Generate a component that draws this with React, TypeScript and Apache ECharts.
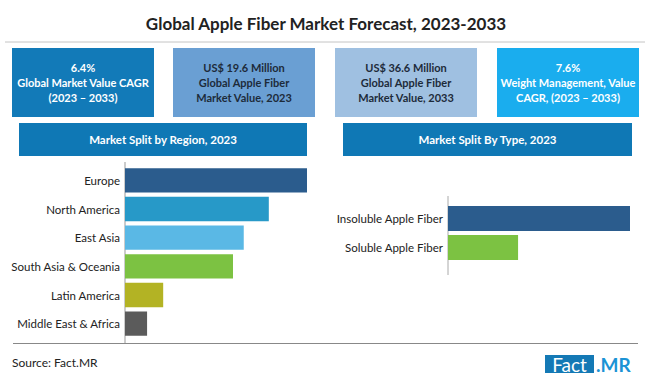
import React, { useEffect, useRef } from "react";
import * as echarts from "echarts";

const title = "Global Apple Fiber Market Forecast, 2023-2033";

const statTexts = [
  "6.4%\nGlobal Market Value CAGR\n(2023 – 2033)",
  "US$ 19.6 Million\nGlobal Apple Fiber\nMarket Value, 2023",
  "US$ 36.6 Million\nGlobal Apple Fiber\nMarket Value, 2033",
  "7.6%\nWeight Management, Value\nCAGR, (2023 – 2033)",
];
const statFills = ["#127ab8", "#6a9fd3", "#9fc0e1", "#1aadee"];
const statTextColors = ["#ffffff", "#1d2b3a", "#1d2b3a", "#ffffff"];

const regionTitle = "Market Split by Region, 2023";
const regionCategories = [
  "Europe",
  "North America",
  "East Asia",
  "South Asia & Oceania",
  "Latin America",
  "Middle East & Africa",
];
const regionValues = [30.5, 24.1, 19.9, 18.1, 6.4, 3.7];
const regionColors = ["#2b5c8d", "#2799c8", "#5ab8e5", "#7cc242", "#b3b324", "#5b5b5b"];

const typeTitle = "Market Split By Type, 2023";
const typeCategories = ["Insoluble Apple Fiber", "Soluble Apple Fiber"];
const typeValues = [72.2, 27.8];
const typeColors = ["#2b5c8d", "#7cc242"];

const sourceText = "Source: Fact.MR";

const FONT = "Lato, 'Open Sans', sans-serif";

export default function App() {
  const ref = useRef<HTMLDivElement>(null);

  useEffect(() => {
    if (!ref.current) return;
    const chart = echarts.init(ref.current, undefined, { renderer: "svg" });

    const boxX = [12, 173, 335, 497];
    const statGraphics: any[] = [];
    statTexts.forEach((t, i) => {
      statGraphics.push({
        type: "rect",
        shape: { x: boxX[i], y: 48, width: 142, height: 69 },
        style: { fill: statFills[i] },
        silent: true,
      });
      statGraphics.push({
        type: "text",
        x: boxX[i] + 71,
        y: 82.5,
        style: {
          text: t,
          align: "center",
          verticalAlign: "middle",
          font: `bold 11px ${FONT}`,
          lineHeight: 15,
          fill: statTextColors[i],
        },
        silent: true,
      });
    });

    const option: any = {
      animation: false,
      backgroundColor: "#ffffff",
      graphic: [
        {
          type: "text",
          x: 326,
          y: 23,
          style: {
            text: title,
            align: "center",
            verticalAlign: "middle",
            font: `bold 17px ${FONT}`,
            fill: "#222222",
          },
        },
        {
          type: "line",
          shape: { x1: 5, y1: 42, x2: 645, y2: 42 },
          style: { stroke: "#c4c4c4", lineWidth: 1 },
        },
        ...statGraphics,
        {
          type: "rect",
          shape: { x: 19, y: 123, width: 288, height: 33 },
          style: { fill: "#0f78b5" },
        },
        {
          type: "text",
          x: 163,
          y: 139.5,
          style: {
            text: regionTitle,
            align: "center",
            verticalAlign: "middle",
            font: `bold 11.5px ${FONT}`,
            fill: "#ffffff",
          },
        },
        {
          type: "rect",
          shape: { x: 343, y: 123, width: 289, height: 33 },
          style: { fill: "#0f78b5" },
        },
        {
          type: "text",
          x: 487.5,
          y: 139.5,
          style: {
            text: typeTitle,
            align: "center",
            verticalAlign: "middle",
            font: `bold 11.5px ${FONT}`,
            fill: "#ffffff",
          },
        },
        {
          type: "line",
          shape: { x1: 125, y1: 162, x2: 125, y2: 343 },
          style: { stroke: "#999999", lineWidth: 1 },
        },
        {
          type: "line",
          shape: { x1: 448, y1: 196, x2: 448, y2: 275 },
          style: { stroke: "#aaaaaa", lineWidth: 1 },
        },
        {
          type: "line",
          shape: { x1: 13, y1: 343.5, x2: 638, y2: 343.5 },
          style: { stroke: "#888888", lineWidth: 1 },
        },
        {
          type: "text",
          x: 12,
          y: 362,
          style: {
            text: sourceText,
            align: "left",
            verticalAlign: "middle",
            font: `12px ${FONT}`,
            fill: "#222222",
          },
        },
        {
          type: "rect",
          shape: { x: 545, y: 355, width: 49, height: 18 },
          style: { fill: "#1479b5" },
        },
        {
          type: "text",
          x: 569.5,
          y: 364,
          style: {
            text: "Fact",
            align: "center",
            verticalAlign: "middle",
            font: `19px ${FONT}`,
            fill: "#ffffff",
          },
        },
        {
          type: "text",
          x: 596,
          y: 364,
          style: {
            text: ".MR",
            align: "left",
            verticalAlign: "middle",
            font: `bold 19px ${FONT}`,
            fill: "#1b93d5",
          },
        },
      ],
      grid: [
        { left: 125, top: 166, width: 182, height: 172 },
        { left: 448, top: 204, width: 182, height: 58 },
      ],
      xAxis: [
        { type: "value", gridIndex: 0, min: 0, max: "dataMax", show: false },
        { type: "value", gridIndex: 1, min: 0, max: "dataMax", show: false },
      ],
      yAxis: [
        {
          type: "category",
          gridIndex: 0,
          inverse: true,
          data: regionCategories,
          axisLine: { show: false },
          axisTick: { show: false },
          axisLabel: { color: "#222222", fontSize: 11.5, fontFamily: FONT, margin: 5 },
        },
        {
          type: "category",
          gridIndex: 1,
          inverse: true,
          data: typeCategories,
          axisLine: { show: false },
          axisTick: { show: false },
          axisLabel: { color: "#222222", fontSize: 11.5, fontFamily: FONT, margin: 5 },
        },
      ],
      series: [
        {
          type: "bar",
          xAxisIndex: 0,
          yAxisIndex: 0,
          barCategoryGap: "15%",
          data: regionValues.map((v, i) => ({ value: v, itemStyle: { color: regionColors[i] } })),
        },
        {
          type: "bar",
          xAxisIndex: 1,
          yAxisIndex: 1,
          barCategoryGap: "14%",
          data: typeValues.map((v, i) => ({ value: v, itemStyle: { color: typeColors[i] } })),
        },
      ],
    };

    chart.setOption(option);
    return () => chart.dispose();
  }, []);

  return (
    <div
      ref={ref}
      style={{ position: "fixed", left: 0, top: 0, width: 650, height: 377, background: "#fff" }}
    />
  );
}
